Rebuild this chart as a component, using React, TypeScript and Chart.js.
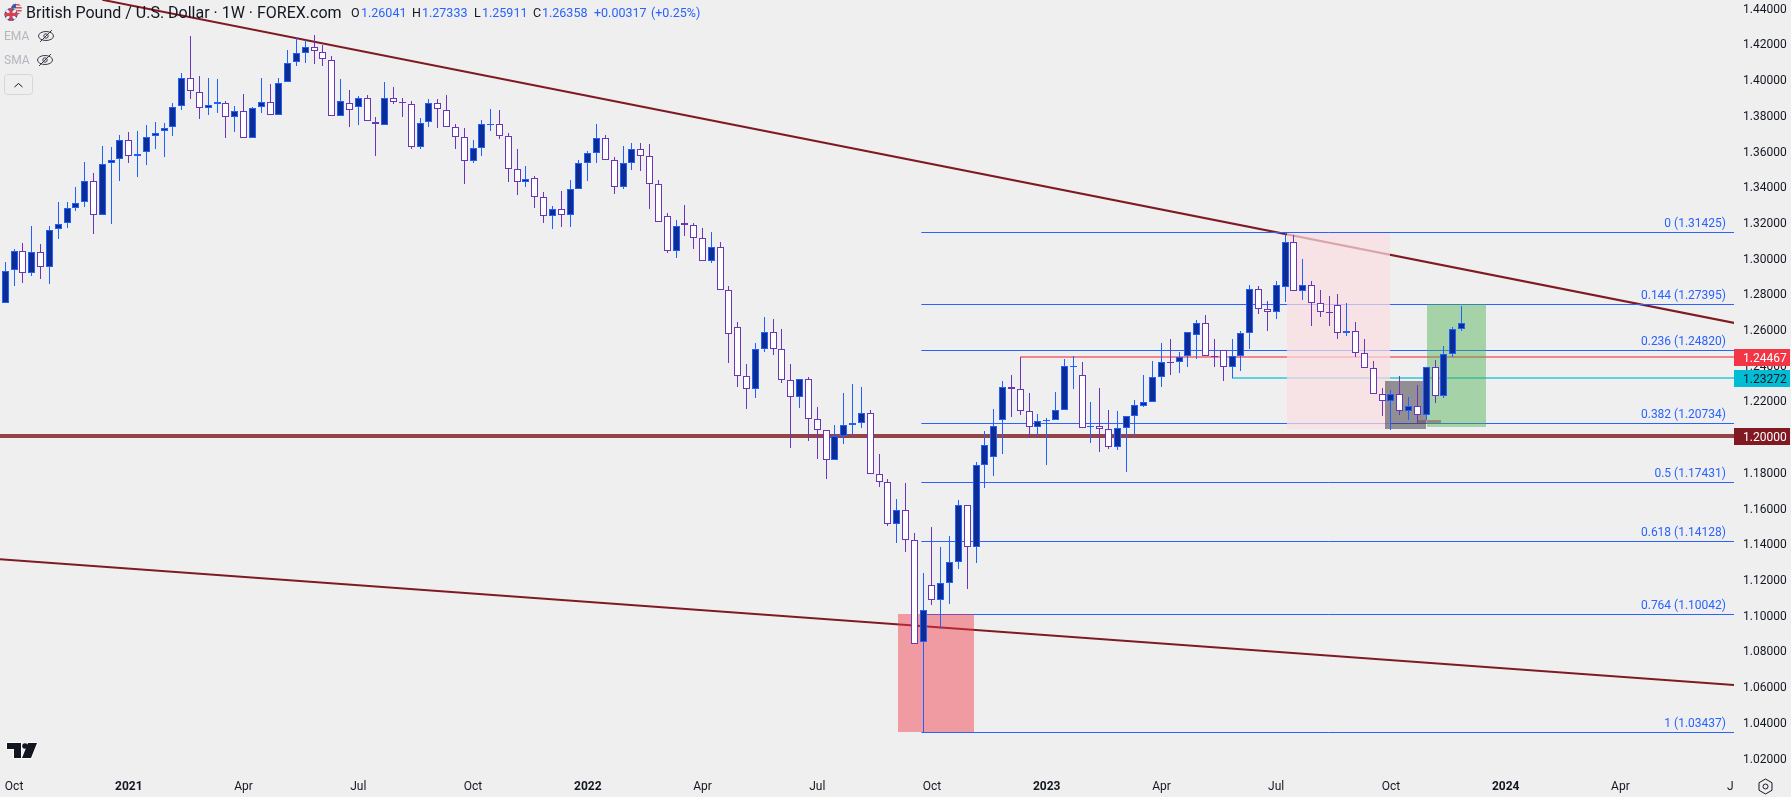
import React, { useEffect, useRef } from "react";
import { Chart, registerables, BarElement } from "chart.js";

Chart.register(...registerables);

const opens = [
  1.2746,1.2931,1.3041,1.2914,1.3035,1.2948,1.3161,1.3194,1.3282,1.3312,
  1.3433,1.3239,1.3530,1.3553,1.3663,1.3569,1.3592,1.3682,1.3709,1.3732,
  1.3849,1.4010,1.3932,1.3838,1.3861,1.3870,1.3788,1.3825,1.3670,1.3844,
  1.3876,1.3799,1.3984,1.4096,1.4146,1.4184,1.4156,1.4111,1.3793,1.3870,
  1.3844,1.3898,1.3764,1.3747,1.3898,1.3872,1.3864,1.3620,1.3760,1.3870,
  1.3831,1.3732,1.3676,1.3541,1.3614,1.3747,1.3749,1.3681,1.3497,1.3424,
  1.3446,1.3340,1.3233,1.3273,1.3239,1.3385,1.3530,1.3586,1.3670,1.3547,
  1.3396,1.3530,1.3609,1.3569,1.3413,1.3233,1.3037,1.3194,1.3183,1.3110,
  1.2981,1.3060,1.2819,1.2612,1.2337,1.2264,1.2488,1.2584,1.2488,1.2315,
  1.2220,1.2320,1.2096,1.2035,1.1867,1.2001,1.2063,1.2074,1.2130,1.1788,
  1.1743,1.1508,1.1586,1.1418,1.0847,1.1166,1.1082,1.1177,1.1295,1.1614,
  1.1379,1.1838,1.1883,1.2090,1.2275,1.2264,1.2140,1.2051,1.2084,1.2090,
  1.2146,1.2391,1.2342,1.2055,1.2056,1.2040,1.1939,1.2045,1.2112,1.2172,
  1.2191,1.2331,1.2417,1.2415,1.2449,1.2566,1.2633,1.2449,1.2482,1.2391,
  1.2449,1.2577,1.2825,1.2713,1.2696,1.2836,1.3088,1.2813,1.2847,1.2746,
  1.2696,1.2735,1.2578,1.2589,1.2466,1.2382,1.2237,1.2197,1.2237,1.2141,
  1.2169,1.2119,1.2388,1.2225,1.2461,1.26041,
];
const closes = [
  1.2929,1.3041,1.2914,1.3035,1.2948,1.3159,1.3192,1.3282,1.3310,1.3433,
  1.3239,1.3528,1.3551,1.3663,1.3569,1.3584,1.3680,1.3702,1.3730,1.3848,
  1.4010,1.3933,1.3838,1.3859,1.3872,1.3788,1.3825,1.3670,1.3842,1.3876,
  1.3799,1.3982,1.4094,1.4146,1.4184,1.4157,1.4113,1.3793,1.3881,1.3827,
  1.3898,1.3765,1.3749,1.3898,1.3872,1.3870,1.3620,1.3758,1.3870,1.3833,
  1.3732,1.3676,1.3541,1.3614,1.3749,1.3749,1.3681,1.3497,1.3424,1.3444,
  1.3340,1.3233,1.3273,1.3239,1.3385,1.3530,1.3586,1.3670,1.3547,1.3396,
  1.3530,1.3609,1.3569,1.3413,1.3200,1.3037,1.3177,1.3183,1.3110,1.2981,
  1.3060,1.2819,1.2572,1.2337,1.2264,1.2488,1.2584,1.2488,1.2315,1.2220,
  1.2320,1.2096,1.2035,1.1867,1.2001,1.2063,1.2074,1.2130,1.1788,1.1743,
  1.1508,1.1586,1.1418,1.0836,1.1026,1.1082,1.1177,1.1295,1.1614,1.1379,
  1.1838,1.1950,1.2056,1.2275,1.2264,1.2140,1.2051,1.2084,1.2090,1.2146,
  1.2392,1.2392,1.2045,1.2056,1.2040,1.1939,1.2045,1.2112,1.2174,1.2191,
  1.2331,1.2415,1.2413,1.2443,1.2583,1.2633,1.2449,1.2447,1.2391,1.2449,
  1.2577,1.2825,1.2713,1.2696,1.2847,1.3088,1.2813,1.2847,1.2746,1.2696,
  1.2694,1.2578,1.2588,1.2466,1.2382,1.2237,1.2197,1.2237,1.2141,1.2169,
  1.2119,1.2388,1.2225,1.2461,1.2601,1.26358,
];
const highs = [
  1.2976,1.3048,1.3082,1.3179,1.3078,1.3179,1.3314,1.3314,1.3398,1.3536,
  1.3474,1.3625,1.3620,1.3687,1.3704,1.3709,1.3743,1.3760,1.3754,1.3866,
  1.4034,1.4243,1.4018,1.4006,1.4001,1.3878,1.3849,1.3917,1.3844,1.4006,
  1.3973,1.4006,1.4163,1.4234,1.4221,1.4249,1.4191,1.4130,1.4001,1.3939,
  1.3906,1.3911,1.3788,1.3984,1.3956,1.3894,1.3878,1.3782,1.3889,1.3889,
  1.3911,1.3751,1.3728,1.3659,1.3773,1.3835,1.3829,1.3700,1.3609,1.3515,
  1.3459,1.3368,1.3291,1.3375,1.3437,1.3547,1.3597,1.3751,1.3689,1.3566,
  1.3627,1.3644,1.3644,1.3637,1.3437,1.3252,1.3211,1.3297,1.3196,1.3166,
  1.3146,1.3088,1.2841,1.2642,1.2406,1.2524,1.2670,1.2658,1.2602,1.2406,
  1.2320,1.2333,1.2165,1.2035,1.2065,1.2244,1.2294,1.2277,1.2149,1.1902,
  1.1762,1.1650,1.1737,1.1457,1.1235,1.1493,1.1381,1.1442,1.1644,1.1614,
  1.1857,1.2030,1.2154,1.2310,1.2344,1.2447,1.2241,1.2126,1.2103,1.2247,
  1.2432,1.2450,1.2417,1.2193,1.2271,1.2148,1.2142,1.2112,1.2204,1.2344,
  1.2422,1.2523,1.2546,1.2473,1.2583,1.2652,1.2680,1.2544,1.2482,1.2546,
  1.2589,1.2849,1.2843,1.2759,1.2873,1.3143,1.3129,1.2993,1.2869,1.2819,
  1.2787,1.2797,1.2746,1.2642,1.2547,1.2423,1.2272,1.2261,1.2339,1.2222,
  1.2289,1.2388,1.2429,1.2507,1.2612,1.27333,
];
const lows = [
  1.2746,1.2845,1.2862,1.2901,1.2884,1.2856,1.3108,1.3170,1.3265,1.3288,
  1.3136,1.3239,1.3192,1.3433,1.3534,1.3456,1.3523,1.3612,1.3568,1.3685,
  1.3831,1.3892,1.3780,1.3803,1.3814,1.3674,1.3708,1.3670,1.3670,1.3814,
  1.3799,1.3799,1.3984,1.4077,1.4090,1.4088,1.4077,1.3793,1.3793,1.3736,
  1.3747,1.3765,1.3573,1.3743,1.3864,1.3792,1.3609,1.3612,1.3736,1.3730,
  1.3732,1.3612,1.3416,1.3534,1.3573,1.3713,1.3667,1.3428,1.3355,1.3400,
  1.3282,1.3198,1.3164,1.3175,1.3175,1.3385,1.3433,1.3534,1.3547,1.3360,
  1.3388,1.3495,1.3489,1.3276,1.3200,1.3030,1.3002,1.3125,1.3052,1.2981,
  1.2974,1.2819,1.2414,1.2277,1.2156,1.2218,1.2475,1.2457,1.2300,1.1938,
  1.2162,1.1977,1.1876,1.1764,1.1867,1.1960,1.2007,1.2048,1.1788,1.1719,
  1.1500,1.1405,1.1355,1.0836,1.0344,1.1056,1.0923,1.1063,1.1259,1.1145,
  1.1291,1.1713,1.1778,1.1903,1.2111,1.2120,1.1991,1.2004,1.1840,1.2090,
  1.2146,1.2265,1.2045,1.1963,1.1913,1.1930,1.1924,1.1801,1.2008,1.2167,
  1.2191,1.2277,1.2344,1.2355,1.2389,1.2434,1.2449,1.2389,1.2310,1.2325,
  1.2366,1.2491,1.2688,1.2591,1.2660,1.2754,1.2813,1.2765,1.2619,1.2670,
  1.2619,1.2548,1.2563,1.2446,1.2382,1.2237,1.2112,1.2037,1.2121,1.2093,
  1.2074,1.2093,1.2190,1.2216,1.2446,1.25911,
];

const priceTicks = [1.44,1.42,1.4,1.38,1.36,1.34,1.32,1.3,1.28,1.26,1.24,1.22,1.2,1.18,1.16,1.14,1.12,1.1,1.08,1.06,1.04,1.02];
const timeTickBars = [1,14,27,40,53,66,79,92,105,118,131,144,157,170,183,196];
const timeTickLabels = ["Oct","2021","Apr","Jul","Oct","2022","Apr","Jul","Oct","2023","Apr","Jul","Oct","2024","Apr","Jul"];

const fibLevels = ["0","0.144","0.236","0.382","0.5","0.618","0.764","1"];
const fibPrices = [1.31425,1.27395,1.2482,1.20734,1.17431,1.14128,1.10042,1.03437];
const fibStartBar = 103.8;

const upperTrendBars = [11, 196];
const upperTrendPrices = [1.4446, 1.2635];
const lowerTrendBars = [-1, 196];
const lowerTrendPrices = [1.1314, 1.0607];

const resistance = 1.24467;
const resistanceStartBar = 115;
const support = 1.23272;
const supportStartBar = 139;
const roundLevel = 1.2;

const boxStarts = [101.1, 145.2, 156.3, 161.1, 160.0];
const boxEnds = [109.8, 156.9, 161.0, 167.8, 162.7];
const boxHighs = [1.1006, 1.3142, 1.2311, 1.274, 1.2092];
const boxLows = [1.0344, 1.2042, 1.2042, 1.2053, 1.2074];
const boxColors = [
  "rgba(242,54,69,0.45)",
  "rgba(250,220,224,0.72)",
  "rgba(68,62,72,0.55)",
  "rgba(76,175,80,0.45)",
  "rgba(130,60,60,0.45)",
];

const FONT = "Roboto, sans-serif";
const BG = "#efefef";
const UP_FILL = "#0d2c94";
const UP_LINE = "#2060ff";
const DOWN_FILL = "#ffffff";
const DOWN_LINE = "#6a35b8";
const BLUE = "#2962ff";
const INK = "#131722";

// TradingView snaps candles to the pixel grid
const drawBar = BarElement.prototype.draw;
BarElement.prototype.draw = function (ctx: CanvasRenderingContext2D) {
  const self: any = this;
  const { x, y, base } = self;
  self.x = Math.floor(x) + 0.5;
  self.y = Math.round(y);
  self.base = Math.round(base);
  drawBar.call(this, ctx);
  self.x = x;
  self.y = y;
  self.base = base;
};

const snapPlugin = {
  id: "snap",
  afterDatasetsUpdate(chart: any) {
    chart.data.datasets.forEach((ds: any, i: number) => {
      if (!ds.snap) return;
      const odd = ds.borderWidth % 2 === 1;
      chart.getDatasetMeta(i).data.forEach((p: any) => {
        p.y = odd ? Math.floor(p.y) + 0.5 : Math.round(p.y);
      });
    });
  },
};

const backgroundPlugin = {
  id: "bg",
  beforeDraw(chart: any) {
    const { ctx, width, height } = chart;
    ctx.save();
    ctx.fillStyle = BG;
    ctx.fillRect(0, 0, width, height);
    ctx.restore();
  },
};

const boxesPlugin = {
  id: "boxes",
  beforeDatasetDraw(chart: any, args: any) {
    if (chart.data.datasets[args.index].label !== "up wicks") return;
    const { ctx, scales, chartArea } = chart;
    ctx.save();
    ctx.beginPath();
    ctx.rect(chartArea.left, chartArea.top, chartArea.right - chartArea.left, chartArea.bottom - chartArea.top);
    ctx.clip();
    boxStarts.forEach((s, i) => {
      const l = Math.round(scales.x.getPixelForValue(s));
      const r = Math.round(scales.x.getPixelForValue(boxEnds[i]));
      const t = Math.round(scales.y.getPixelForValue(boxHighs[i]));
      const b = Math.round(scales.y.getPixelForValue(boxLows[i]));
      ctx.fillStyle = boxColors[i];
      ctx.fillRect(l, t, r - l, b - t);
    });
    ctx.restore();
  },
};

function text(ctx: any, s: string, x: number, y: number, color: string, font: string, align = "left") {
  ctx.font = font;
  ctx.fillStyle = color;
  ctx.textAlign = align;
  ctx.textBaseline = "middle";
  ctx.fillText(s, x, y);
}

function drawEye(ctx: any, cx: number, cy: number) {
  ctx.save();
  ctx.strokeStyle = "#3a3d48";
  ctx.lineWidth = 1;
  ctx.beginPath();
  ctx.ellipse(cx, cy, 7.5, 4.5, 0, 0, Math.PI * 2);
  ctx.stroke();
  ctx.beginPath();
  ctx.arc(cx, cy, 2.2, 0, Math.PI * 2);
  ctx.stroke();
  ctx.beginPath();
  ctx.moveTo(cx - 6, cy + 6);
  ctx.lineTo(cx + 6, cy - 6);
  ctx.stroke();
  ctx.restore();
}

function drawFlags(ctx: any) {
  ctx.save();
  ctx.beginPath();
  ctx.arc(16.5, 9, 5.5, 0, Math.PI * 2);
  ctx.fillStyle = "#e7e7ee";
  ctx.fill();
  ctx.clip();
  ctx.fillStyle = "#d8505a";
  for (let i = 0; i < 4; i++) ctx.fillRect(10, 4 + i * 3, 13, 1.5);
  ctx.fillStyle = "#3d5aa8";
  ctx.fillRect(10, 3, 6, 5);
  ctx.restore();
  ctx.save();
  ctx.beginPath();
  ctx.arc(11, 14.5, 6.5, 0, Math.PI * 2);
  ctx.fillStyle = "#2f4a9c";
  ctx.fill();
  ctx.clip();
  ctx.strokeStyle = "#f4e8ea";
  ctx.lineWidth = 3;
  ctx.beginPath();
  ctx.moveTo(4, 8);
  ctx.lineTo(18, 21);
  ctx.moveTo(18, 8);
  ctx.lineTo(4, 21);
  ctx.stroke();
  ctx.strokeStyle = "#d8404e";
  ctx.beginPath();
  ctx.moveTo(11, 7);
  ctx.lineTo(11, 22);
  ctx.moveTo(4, 14.5);
  ctx.lineTo(18, 14.5);
  ctx.stroke();
  ctx.restore();
}

function drawLogo(ctx: any) {
  ctx.save();
  ctx.fillStyle = "#131722";
  ctx.strokeStyle = "#ffffff";
  ctx.lineWidth = 2;
  ctx.lineJoin = "round";
  const path = () => {
    ctx.beginPath();
    ctx.moveTo(7, 743);
    ctx.lineTo(21, 743);
    ctx.lineTo(21, 758);
    ctx.lineTo(14, 758);
    ctx.lineTo(14, 749);
    ctx.lineTo(7, 749);
    ctx.closePath();
    ctx.moveTo(28, 743);
    ctx.lineTo(37, 743);
    ctx.lineTo(31, 758);
    ctx.lineTo(22, 758);
    ctx.closePath();
  };
  path();
  ctx.stroke();
  path();
  ctx.fill();
  ctx.beginPath();
  ctx.arc(25, 746, 2.8, 0, Math.PI * 2);
  ctx.fill();
  ctx.restore();
}

const overlayPlugin = {
  id: "overlay",
  afterDraw(chart: any) {
    const { ctx, scales, chartArea } = chart;
    const y = scales.y;
    ctx.save();

    ctx.fillStyle = BG;
    ctx.fillRect(chartArea.right, chartArea.bottom, chart.width - chartArea.right, chart.height - chartArea.bottom);

    fibPrices.forEach((p, i) => {
      const py = Math.floor(y.getPixelForValue(p));
      text(ctx, `${fibLevels[i]} (${p.toFixed(5)})`, 1726, py - 8.5, BLUE, `12px ${FONT}`, "right");
    });

    const flags = [
      { p: resistance, bg: "#f23645", fg: "#ffffff" },
      { p: support, bg: "#00bcd4", fg: "#131722" },
      { p: roundLevel, bg: "#801922", fg: "#ffffff" },
    ];
    flags.forEach((f) => {
      const py = Math.round(y.getPixelForValue(f.p));
      ctx.fillStyle = f.bg;
      ctx.fillRect(1734, py - 8, 56, 17);
      text(ctx, f.p.toFixed(5), 1743, py + 1.5, f.fg, `12px ${FONT}`);
    });

    drawFlags(ctx);
    text(ctx, "British Pound / U.S. Dollar · 1W · FOREX.com", 26, 14, INK, `16px ${FONT}`);
    const head: [string, number, string][] = [
      ["O", 351, INK], ["1.26041", 361, BLUE],
      ["H", 412, INK], ["1.27333", 422, BLUE],
      ["L", 474, INK], ["1.25911", 482, BLUE],
      ["C", 533, INK], ["1.26358", 542, BLUE],
      ["+0.00317", 594, BLUE], ["(+0.25%)", 651, BLUE],
    ];
    head.forEach(([s, x, c]) => text(ctx, s, x, 14, c, `12.5px ${FONT}`));

    text(ctx, "EMA", 4, 37, "#b4b6bd", `12px ${FONT}`);
    drawEye(ctx, 46, 36);
    text(ctx, "SMA", 4, 61, "#b4b6bd", `12px ${FONT}`);
    drawEye(ctx, 45, 60);

    ctx.strokeStyle = "#d6d7dc";
    ctx.lineWidth = 1;
    ctx.beginPath();
    ctx.roundRect(4.5, 74.5, 28, 20, 3);
    ctx.stroke();
    ctx.strokeStyle = "#131722";
    ctx.beginPath();
    ctx.moveTo(14.5, 87);
    ctx.lineTo(18.5, 83.5);
    ctx.lineTo(22.5, 87);
    ctx.stroke();

    drawLogo(ctx);

    ctx.strokeStyle = "#131722";
    ctx.beginPath();
    for (let k = 0; k < 6; k++) {
      const a = Math.PI / 2 + (k * Math.PI) / 3;
      const hx = 1765.5 + 7.5 * Math.cos(a);
      const hy = 786.5 + 7.5 * Math.sin(a);
      if (k === 0) ctx.moveTo(hx, hy);
      else ctx.lineTo(hx, hy);
    }
    ctx.closePath();
    ctx.stroke();
    ctx.beginPath();
    ctx.arc(1765.5, 786.5, 2.5, 0, Math.PI * 2);
    ctx.stroke();

    ctx.restore();
  },
};

function pinGeometry(width?: number, height?: number, labelShift = 0) {
  return (s: any) => {
    if (width !== undefined) s.width = width;
    if (height !== undefined) s.height = height;
    s.paddingLeft = 0;
    s.paddingRight = 0;
    s.paddingTop = 0;
    s.paddingBottom = 0;
    if (labelShift && !s.__shifted) {
      s.__shifted = true;
      const orig = s.drawLabels;
      s.drawLabels = function (area: any) {
        this.ctx.save();
        this.ctx.translate(0, labelShift);
        orig.call(this, area);
        this.ctx.restore();
      };
    }
  };
}

function lineDataset(label: string, xs: number[], ys: number[], color: string, width: number, order: number, snap = false) {
  return {
    type: "line",
    label,
    data: xs.map((x, i) => ({ x, y: ys[i] })),
    borderColor: color,
    borderWidth: width,
    pointRadius: 0,
    tension: 0,
    fill: false,
    order,
    snap,
  };
}

export default function App() {
  const ref = useRef<HTMLCanvasElement>(null);
  useEffect(() => {
    const idx = opens.map((_, i) => i);
    const ups = idx.filter((i) => closes[i] >= opens[i]);
    const downs = idx.filter((i) => closes[i] < opens[i]);
    const wicks = (list: number[]) => list.map((i) => ({ x: i, y: [lows[i], highs[i]] }));
    const bodies = (list: number[]) => list.map((i) => ({ x: i, y: [opens[i], closes[i]] }));
    const barCommon = { type: "bar", grouped: false, inflateAmount: 0, borderSkipped: false };

    const chart = new Chart(ref.current as HTMLCanvasElement, {
      type: "bar",
      data: {
        datasets: [
          lineDataset("round level", [-1, 200], [roundLevel, roundLevel], "#934449", 4, 50, true),
          lineDataset("upper trend", upperTrendBars, upperTrendPrices, "#7f1a22", 2, 48),
          lineDataset("lower trend", lowerTrendBars, lowerTrendPrices, "#7f1a22", 2, 48),
          lineDataset("resistance", [resistanceStartBar, 200], [resistance, resistance], "#f2858e", 2, 47, true),
          lineDataset("support", [supportStartBar, 200], [support, support], "#62cfdc", 2, 47, true),
          ...fibPrices.map((p, i) => lineDataset(`fib ${fibLevels[i]}`, [fibStartBar, 200], [p, p], BLUE, 1, 46, true)),
          { ...barCommon, label: "up wicks", data: wicks(ups), backgroundColor: UP_LINE, barThickness: 1, order: 10 },
          { ...barCommon, label: "down wicks", data: wicks(downs), backgroundColor: DOWN_LINE, barThickness: 1, order: 9 },
          { ...barCommon, label: "up bodies", data: bodies(ups), backgroundColor: UP_FILL, borderColor: UP_LINE, borderWidth: 1, barThickness: 7, order: 8 },
          { ...barCommon, label: "down bodies", data: bodies(downs), backgroundColor: DOWN_FILL, borderColor: DOWN_LINE, borderWidth: 1, barThickness: 7, order: 7 },
        ],
      } as any,
      options: {
        animation: false,
        responsive: false,
        devicePixelRatio: 1,
        layout: { padding: 0 },
        plugins: { legend: { display: false }, tooltip: { enabled: false }, title: { display: false } },
        scales: {
          x: {
            type: "linear",
            position: "bottom",
            offset: false,
            min: -0.5948,
            max: 195.87,
            grid: { display: false, drawTicks: false, offset: false },
            border: { display: false },
            afterBuildTicks: (s: any) => {
              s.ticks = timeTickBars.map((value) => ({ value }));
            },
            ticks: {
              autoSkip: false,
              maxRotation: 0,
              padding: 12,
              color: INK,
              font: (c: any) => ({
                family: FONT,
                size: 12,
                weight: /^\d/.test(timeTickLabels[timeTickBars.indexOf(c.tick?.value)] || "") ? "bold" : "normal",
              }),
              callback: (v: any) => timeTickLabels[timeTickBars.indexOf(v)] ?? "",
            },
            afterFit: pinGeometry(undefined, 29),
          },
          y: {
            type: "linear",
            position: "right",
            min: 1.01430,
            max: 1.44448,
            grid: { display: false, drawTicks: false },
            border: { display: false },
            afterBuildTicks: (s: any) => {
              s.ticks = priceTicks.map((value) => ({ value }));
            },
            ticks: {
              autoSkip: false,
              padding: 9,
              color: INK,
              font: { family: FONT, size: 12 },
              callback: (v: any) => Number(v).toFixed(5),
            },
            afterFit: pinGeometry(57, undefined, 1.7),
          },
        },
      } as any,
      plugins: [backgroundPlugin, snapPlugin, boxesPlugin, overlayPlugin],
    } as any);
    return () => chart.destroy();
  }, []);
  return <canvas ref={ref} width={1791} height={797} style={{ position: "fixed", left: 0, top: 0, display: "block" }} />;
}
